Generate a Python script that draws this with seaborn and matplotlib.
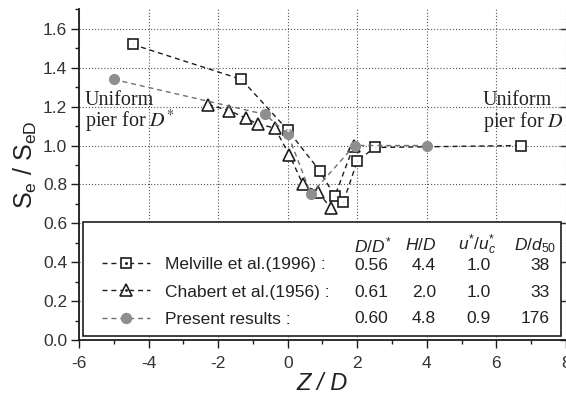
import matplotlib
matplotlib.use("Agg")
import matplotlib.pyplot as plt
import seaborn as sns
import numpy as np
from matplotlib.lines import Line2D
from matplotlib.patches import Rectangle
from matplotlib.ticker import MultipleLocator, FormatStrFormatter
from matplotlib.legend_handler import HandlerTuple

# ---------------- data ----------------
mel_x = [-4.46, -1.33, 0.0, 0.92, 1.35, 1.6, 2.0, 2.5, 6.7]
mel_y = [1.52, 1.34, 1.08, 0.87, 0.74, 0.71, 0.92, 0.99, 1.0]
cha_x = [-2.29, -1.68, -1.2, -0.85, -0.37, 0.05, 0.44, 0.88, 1.23, 1.9]
cha_y = [1.21, 1.18, 1.14, 1.11, 1.09, 0.95, 0.80, 0.76, 0.68, 1.0]
pre_x = [-5.0, -0.65, 0.0, 0.67, 1.92, 4.0]
pre_y = [1.34, 1.16, 1.06, 0.75, 1.0, 1.0]

series_labels = ["Melville et al.(1996) :", "Chabert et al.(1956) :", "Present results :"]
col_headers = [r"$D/D^{*}$", r"$H/D$", r"$u^{*}/u^{*}_{c}$", r"$D/d_{50}$"]
col_DDs = ["0.56", "0.61", "0.60"]
col_HD = ["4.4", "2.0", "4.8"]
col_u = ["1.0", "1.0", "0.9"]
col_Dd50 = ["38", "33", "176"]

x_ticks = [-6, -4, -2, 0, 2, 4, 6, 8]
y_ticks = [0.0, 0.2, 0.4, 0.6, 0.8, 1.0, 1.2, 1.4, 1.6]

# ---------------- style ----------------
sns.set_style("ticks")
plt.rcParams["font.family"] = ["Liberation Sans", "DejaVu Sans"]
plt.rcParams["mathtext.fontset"] = "custom"
plt.rcParams["mathtext.rm"] = "Liberation Sans"
plt.rcParams["mathtext.it"] = "Liberation Sans:italic"
plt.rcParams["mathtext.bf"] = "Liberation Sans:bold"
plt.rcParams["axes.unicode_minus"] = False

fig = plt.figure(figsize=(5.66, 3.96), dpi=100)
ax = fig.add_axes([79 / 566, 56 / 396, 487 / 566, 330.6 / 396])

dash = (0, (3.6, 2.8))
lw = 1.0
ink = "#1e1e1e"
gray = "#8e8e8e"

sns.lineplot(x=mel_x, y=mel_y, ax=ax, sort=False, estimator=None, color=ink,
             linestyle=dash, linewidth=lw, marker="s", markersize=6.8,
             markerfacecolor="white", markeredgecolor=ink, markeredgewidth=1.2, zorder=3)
sns.lineplot(x=mel_x, y=mel_y, ax=ax, sort=False, estimator=None, color=ink,
             linestyle="none", marker=".", markersize=2.2, zorder=4)
sns.lineplot(x=cha_x, y=cha_y, ax=ax, sort=False, estimator=None, color=ink,
             linestyle=dash, linewidth=lw, marker="^", markersize=8,
             markerfacecolor="white", markeredgecolor=ink, markeredgewidth=1.2, zorder=2)
sns.lineplot(x=cha_x, y=cha_y, ax=ax, sort=False, estimator=None, color=ink,
             linestyle="none", marker=".", markersize=2.0, zorder=2.5)
sns.lineplot(x=pre_x, y=pre_y, ax=ax, sort=False, estimator=None, color="#707070",
             linestyle=dash, linewidth=lw, marker="o", markersize=7.2,
             markerfacecolor=gray, markeredgecolor=gray, markeredgewidth=0.8, zorder=3.5)

ax.set_xlim(-6, 8)
ax.set_ylim(0, 1.7)
ax.set_xticks(x_ticks)
ax.set_yticks(y_ticks)
ax.xaxis.set_minor_locator(MultipleLocator(1))
ax.yaxis.set_minor_locator(MultipleLocator(0.1))
ax.yaxis.set_major_formatter(FormatStrFormatter("%.1f"))
ax.tick_params(which="major", direction="out", length=5.5, width=1.0, color=ink,
               labelsize=12.5, labelcolor="#333333", pad=3)
ax.tick_params(axis="x", which="major", pad=6)
ax.tick_params(which="minor", direction="out", length=3, width=1.0, color=ink)
ax.grid(True, which="major", linestyle=(0, (1, 1.8)), linewidth=0.8, color="#555555", zorder=0)
ax.set_axisbelow(True)
for s in ["top", "right"]:
    ax.spines[s].set_visible(False)
for s in ["left", "bottom"]:
    ax.spines[s].set_linewidth(1.3)
    ax.spines[s].set_color(ink)

sec = ax.secondary_yaxis("right")
sec.set_yticks(y_ticks)
sec.tick_params(direction="in", length=4, width=1.0, color=ink, labelright=False)
sec.spines["right"].set_visible(False)

ax.set_xlabel("Z / D", fontsize=17, fontstyle="italic", color="#222222", labelpad=1)
ax.set_ylabel(r"$\mathrm{S_e\ /\ S_{eD}}$", fontsize=18, color="#222222")
ax.yaxis.set_label_coords(-0.082, 0.53)

# annotations
serif = ["Liberation Serif", "DejaVu Serif"]
ax.text(-5.83, 1.234, "Uniform", family=serif, fontsize=14.5, color="#222222",
        ha="left", va="center")
ax.text(-5.83, 1.122, r"pier for $D^{*}$", family=serif, fontsize=14.5, color="#222222",
        ha="left", va="center", math_fontfamily="stix")
ax.text(5.61, 1.234, "Uniform", family=serif, fontsize=14.5, color="#222222",
        ha="left", va="center")
ax.text(5.61, 1.122, r"pier for $D$", family=serif, fontsize=14.5, color="#222222",
        ha="left", va="center", math_fontfamily="stix")

# legend box
box = Rectangle((-5.894, 0.0216), 7.846 + 5.894, 0.607 - 0.0216, transform=ax.transData,
                facecolor="white", edgecolor=ink, linewidth=1.2, zorder=5, clip_on=False)
ax.add_patch(box)

h_mel = (Line2D([], [], color=ink, linestyle=dash, linewidth=lw, marker="s", markersize=6.8,
                markerfacecolor="white", markeredgecolor=ink, markeredgewidth=1.2),
         Line2D([], [], color=ink, linestyle="none", marker=".", markersize=2.2))
h_cha = (Line2D([], [], color=ink, linestyle=dash, linewidth=lw, marker="^", markersize=8,
                markerfacecolor="white", markeredgecolor=ink, markeredgewidth=1.2),
         Line2D([], [], color=ink, linestyle="none", marker=".", markersize=2.0))
h_pre = Line2D([], [], color="#707070", linestyle=dash, linewidth=lw, marker="o", markersize=7.2,
               markerfacecolor=gray, markeredgecolor=gray)
leg = ax.legend([h_mel, h_cha, h_pre], series_labels, loc="upper left",
                bbox_to_anchor=(-5.35, 0.428), bbox_transform=ax.transData,
                frameon=False, fontsize=12.5, handlelength=2.78, handletextpad=0.85,
                labelspacing=0.72, borderpad=0, borderaxespad=0, markerscale=1.0,
                handler_map={tuple: HandlerTuple(ndivide=1)})
leg.set_zorder(6)
for t in leg.get_texts():
    t.set_color("#222222")

row_y = [0.381, 0.243, 0.108]
header_y = 0.487
header_x = [2.99, 4.26, 6.0, 7.73]
for hx, ht in zip(header_x, col_headers):
    ax.text(hx, header_y, ht, fontsize=12.5, ha="right", va="center", color="#222222", zorder=6)
col_x = [2.88, 4.26, 5.83, 7.54]
for cx, col in zip(col_x, [col_DDs, col_HD, col_u, col_Dd50]):
    for ry, v in zip(row_y, col):
        ax.text(cx, ry, v, fontsize=12.5, ha="right", va="center", color="#222222", zorder=6)

fig.savefig("out.png", dpi=100)
